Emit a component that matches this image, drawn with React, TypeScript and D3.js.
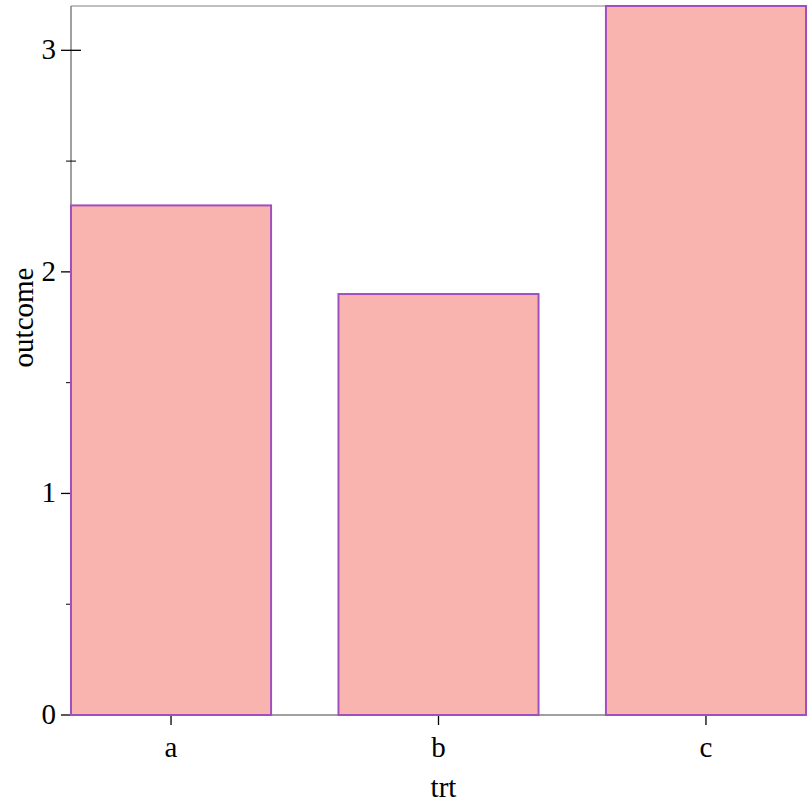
import { useEffect, useRef } from "react";
import * as d3 from "d3";

const categories = ["a", "b", "c"];
const outcome = [2.3, 1.9, 3.2];
const majorTicks = [0, 1, 2, 3];
const minorTicks = [0.5, 1.5, 2.5];

const width = 812;
const height = 812;
const margin = { top: 6, right: 6, bottom: 97, left: 71 };
const font = "'Liberation Serif', 'Times New Roman', serif";
const fontSize = 29;

export default function App() {
  const svgRef = useRef<SVGSVGElement>(null);

  useEffect(() => {
    if (!svgRef.current) return;
    const svg = d3.select(svgRef.current);
    svg.selectAll("*").remove();

    const x = d3
      .scaleBand<string>()
      .domain(categories)
      .range([margin.left, width - margin.right])
      .paddingInner(0.252)
      .paddingOuter(0);

    const y = d3
      .scaleLinear()
      .domain([0, 3.2])
      .range([height - margin.bottom, margin.top]);

    const axisColor = "#808080";
    const g = svg.append("g");

    // frame: left, bottom, top
    g.append("line")
      .attr("x1", margin.left).attr("x2", margin.left)
      .attr("y1", margin.top).attr("y2", height - margin.bottom)
      .attr("stroke", axisColor).attr("stroke-width", 1.5);
    g.append("line")
      .attr("x1", margin.left).attr("x2", width - margin.right)
      .attr("y1", height - margin.bottom).attr("y2", height - margin.bottom)
      .attr("stroke", axisColor).attr("stroke-width", 1.5);
    g.append("line")
      .attr("x1", margin.left).attr("x2", width - margin.right)
      .attr("y1", margin.top).attr("y2", margin.top)
      .attr("stroke", axisColor).attr("stroke-width", 1);

    // y ticks
    g.selectAll("line.major")
      .data(majorTicks)
      .join("line")
      .attr("class", "major")
      .attr("x1", margin.left - 10).attr("x2", margin.left + 10)
      .attr("y1", (d) => y(d)).attr("y2", (d) => y(d))
      .attr("stroke", "#000").attr("stroke-width", 1.3);
    g.selectAll("line.minor")
      .data(minorTicks)
      .join("line")
      .attr("class", "minor")
      .attr("x1", margin.left - 5).attr("x2", margin.left + 5)
      .attr("y1", (d) => y(d)).attr("y2", (d) => y(d))
      .attr("stroke", "#000").attr("stroke-width", 1);
    g.selectAll("text.ylab")
      .data(majorTicks)
      .join("text")
      .attr("class", "ylab")
      .attr("x", margin.left - 15)
      .attr("y", (d) => y(d))
      .attr("dy", "0.3em")
      .attr("text-anchor", "end")
      .attr("font-family", font)
      .attr("font-size", fontSize)
      .text((d) => String(d));

    // x ticks
    g.selectAll("line.xt")
      .data(categories)
      .join("line")
      .attr("class", "xt")
      .attr("x1", (d) => x(d)! + x.bandwidth() / 2)
      .attr("x2", (d) => x(d)! + x.bandwidth() / 2)
      .attr("y1", height - margin.bottom - 10)
      .attr("y2", height - margin.bottom + 10)
      .attr("stroke", "#000").attr("stroke-width", 1.3);
    g.selectAll("text.xlab")
      .data(categories)
      .join("text")
      .attr("class", "xlab")
      .attr("x", (d) => x(d)! + x.bandwidth() / 2)
      .attr("y", height - margin.bottom + 42)
      .attr("text-anchor", "middle")
      .attr("font-family", font)
      .attr("font-size", fontSize)
      .text((d) => d);

    // bars
    g.selectAll("rect.bar")
      .data(categories.map((c, i) => ({ c, v: outcome[i] })))
      .join("rect")
      .attr("class", "bar")
      .attr("x", (d) => x(d.c)!)
      .attr("y", (d) => y(d.v))
      .attr("width", x.bandwidth())
      .attr("height", (d) => y(0) - y(d.v))
      .attr("fill", "#FAB4AF")
      .attr("stroke", "#A050BE")
      .attr("stroke-width", 2);

    // axis titles
    svg.append("text")
      .attr("x", (margin.left + width - margin.right) / 2 + 5)
      .attr("y", 797)
      .attr("text-anchor", "middle")
      .attr("font-family", font)
      .attr("font-size", fontSize)
      .text("trt");
    svg.append("text")
      .attr("transform", `translate(33, ${(margin.top + height - margin.bottom) / 2 - 43}) rotate(-90)`)
      .attr("text-anchor", "middle")
      .attr("font-family", font)
      .attr("font-size", fontSize)
      .text("outcome");
  }, []);

  return (
    <svg
      ref={svgRef}
      width={width}
      height={height}
      style={{ position: "absolute", left: 0, top: 0, background: "#fff" }}
    />
  );
}
